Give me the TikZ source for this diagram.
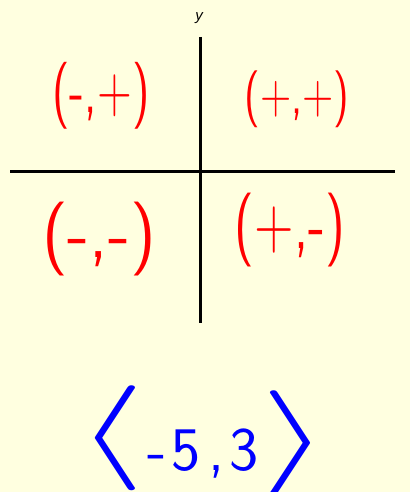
\documentclass[tikz,border=0pt]{standalone}
\usepackage{fontspec}
\setmainfont{Liberation Sans}
\usepackage{graphicx}
\definecolor{paper}{RGB}{255,255,224}
% #1 Breite, #2 Hoehe, #3 Zeichen
\newcommand{\tallbr}[3]{\raisebox{#2}{\scalebox{#1}[10.5]{\fontsize{10}{10}\selectfont$#3$}}}

\begin{document}
\begin{tikzpicture}[line cap=round,line join=round,x=1pt,y=-1pt,
		axis/.style={line width=3pt,line cap=butt},
		redhand/.style={text=red,inner sep=0pt,font=\sffamily\fontsize{#1}{#1}\selectfont},
		bluehand/.style={text=blue,inner sep=0pt,font=\sffamily\fontsize{#1}{#1}\selectfont}]
				\useasboundingbox (0,0) rectangle (410,492);
				\fill[paper] (0,0) rectangle (410,492);
				% Achsen
				\coordinate (ytop) at (200,37);
				\coordinate (ybot) at (200,323);
				\coordinate (xleft) at (10,171);
				\coordinate (xright) at (395,171);
				\draw[axis] (ytop)--(ybot);
				\draw[axis] (xleft)--(xright);
				\node[font=\fontsize{15}{15}\selectfont\itshape, inner sep=0pt] (ylab) at (199,18.5) {y};
				% Quadranten
				\node[redhand=67, xscale=0.71] (q2) at (101,96) {(-,+)};
				\node[redhand=57, xscale=0.75] (q1) at (297,99) {(+,+)};
				\node[redhand=74, xscale=0.95] (q3) at (99,239) {(-,-)};
				\node[redhand=74, xscale=0.73] (q4) at (290,230) {(+,-)};
				% Vektor
				\node[bluehand=62, anchor=base] (vect) at (203,470) {\tallbr{18}{6pt}{\langle}\hspace{2pt}-\kern5pt5\kern8pt,\kern5pt3\hspace{2pt}\tallbr{18}{1pt}{\rangle}};
		\end{tikzpicture}
\end{document}
